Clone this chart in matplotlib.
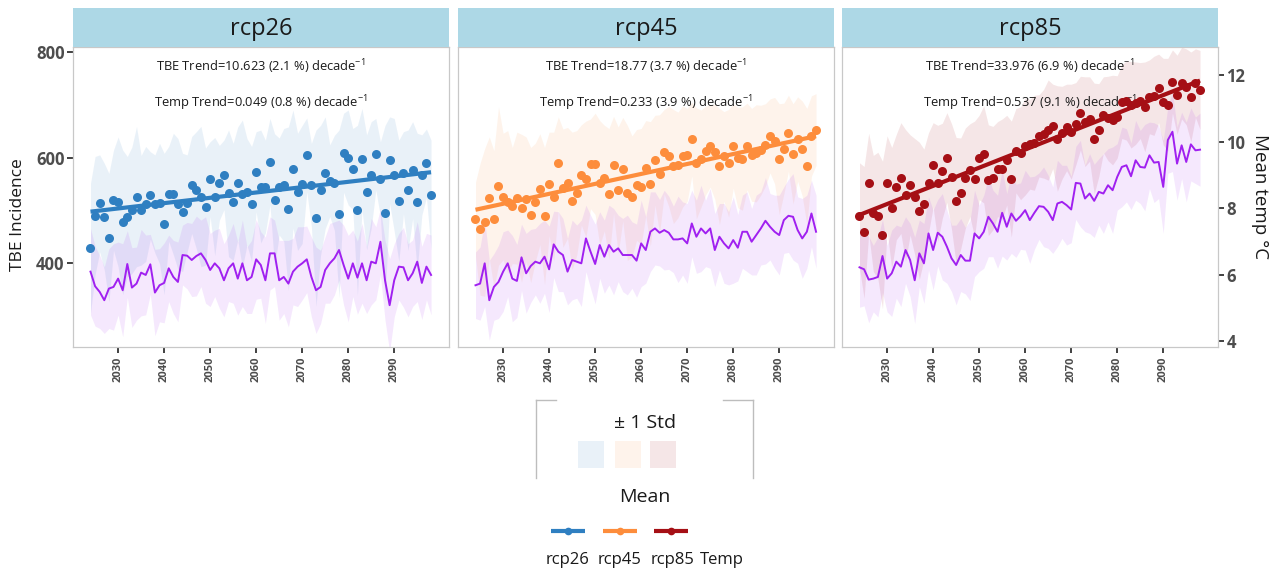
import numpy as np
import matplotlib
matplotlib.use('Agg')
import matplotlib.pyplot as plt
from matplotlib.patches import Rectangle

plt.rcParams['font.family'] = ['Open Sans', 'DejaVu Sans']
plt.rcParams['mathtext.fontset'] = 'custom'
plt.rcParams['mathtext.rm'] = 'Open Sans'
plt.rcParams['mathtext.it'] = 'Open Sans:italic'
plt.rcParams['mathtext.bf'] = 'Open Sans:bold'

# ---------------- data ----------------
years = list(range(2024, 2099))
scenarios = ['rcp26', 'rcp45', 'rcp85']

tbe_rcp26 = [428, 490, 513, 488, 448, 519, 516, 477, 488, 500, 526, 500, 512, 528, 512,
             513, 474, 531, 531, 512, 496, 513, 548, 538, 526, 507, 559, 526, 552, 567,
             532, 516, 551, 531, 535, 512, 573, 545, 545, 592, 519, 545, 548, 503, 578,
             535, 549, 605, 548, 485, 538, 571, 556, 552, 493, 609, 600, 578, 500, 597,
             534, 567, 606, 559, 494, 595, 567, 518, 571, 538, 576, 516, 567, 589, 529]
tbe_sd_rcp26 = [123, 112, 92, 101, 122, 95, 123, 137, 114, 120, 133, 104, 109, 83, 93,
                114, 134, 90, 115, 124, 112, 92, 92, 111, 133, 111, 71, 112, 71, 66,
                120, 111, 107, 140, 101, 109, 76, 107, 88, 82, 126, 92, 107, 155, 112,
                111, 112, 70, 79, 167, 123, 106, 68, 90, 159, 75, 90, 77, 161, 96,
                109, 101, 68, 71, 167, 82, 107, 115, 78, 114, 92, 130, 76, 65, 104]
temp_rcp26 = [6.09, 5.65, 5.48, 5.23, 5.58, 5.63, 5.88, 5.53, 6.32, 5.61, 5.73, 6.06, 5.99, 6.31, 5.46,
              5.68, 5.75, 6.19, 5.93, 5.78, 6.59, 6.57, 6.44, 6.56, 6.64, 6.44, 6.14, 6.34, 6.19, 5.83,
              6.19, 6.34, 5.88, 6.34, 5.83, 5.93, 6.46, 6.29, 5.83, 6.64, 6.64, 5.83, 5.93, 5.73, 6.09,
              6.24, 6.34, 6.46, 5.93, 5.53, 5.63, 6.14, 6.34, 6.49, 6.74, 6.29, 5.88, 6.34, 5.91, 6.34,
              5.83, 6.39, 6.34, 6.99, 5.83, 5.08, 5.83, 6.24, 6.22, 5.83, 6.04, 6.39, 5.75, 6.24, 5.99]
temp_sd_rcp26 = [1.3, 1.2, 1.1, 1.0, 1.2, 1.3, 1.1, 1.4, 1.0, 1.2, 1.1, 1.3, 1.2, 0.9, 1.3,
                 1.1, 1.2, 1.0, 1.1, 1.2, 0.9, 1.0, 1.1, 1.2, 1.0, 1.3, 1.1, 1.0, 1.2, 1.1,
                 1.0, 1.2, 1.1, 1.3, 1.0, 1.1, 1.2, 1.0, 1.3, 1.1, 1.0, 1.2, 1.1, 1.3, 1.0,
                 1.2, 1.1, 1.0, 1.2, 1.3, 1.1, 1.0, 1.2, 1.1, 0.9, 1.2, 1.3, 1.0, 1.1, 1.2,
                 1.0, 1.3, 1.1, 1.0, 1.2, 1.4, 1.1, 1.0, 1.2, 1.1, 1.0, 1.2, 1.1, 1.0, 1.2]

tbe_rcp45 = [483, 464, 477, 524, 483, 546, 526, 516, 509, 523, 504, 521, 491, 515, 540,
             489, 550, 526, 589, 542, 552, 518, 533, 567, 559, 588, 588, 552, 561, 531,
             586, 538, 578, 533, 526, 548, 545, 580, 550, 595, 569, 611, 602, 583, 586,
             602, 605, 635, 589, 598, 613, 622, 611, 583, 602, 589, 622, 600, 598, 621,
             605, 608, 614, 624, 641, 632, 597, 617, 646, 607, 635, 617, 583, 641, 653]
tbe_sd_rcp45 = [70, 125, 140, 115, 130, 150, 120, 135, 110, 125, 140, 118, 128, 112, 105,
                130, 98, 122, 88, 112, 105, 130, 118, 95, 110, 85, 96, 118, 100, 124,
                92, 120, 98, 128, 115, 105, 110, 90, 118, 85, 112, 80, 95, 108, 100,
                96, 88, 70, 105, 92, 84, 78, 90, 110, 85, 102, 80, 95, 98, 82,
                88, 92, 85, 78, 70, 82, 105, 86, 72, 95, 80, 90, 110, 76, 68]
temp_rcp45 = [5.68, 5.73, 6.34, 5.23, 5.63, 5.78, 6.09, 6.34, 5.88, 5.81, 6.52, 6.04, 6.26, 6.39, 6.34,
              6.54, 6.16, 6.91, 6.69, 6.59, 6.09, 6.44, 6.39, 6.34, 7.09, 6.69, 6.32, 6.89, 6.54, 6.89,
              6.69, 6.79, 6.59, 6.59, 6.59, 6.42, 6.94, 6.74, 7.29, 7.39, 7.26, 7.34, 7.26, 7.06, 7.06,
              7.09, 6.94, 7.54, 7.14, 7.39, 7.24, 7.39, 6.74, 7.14, 6.94, 6.79, 7.04, 6.81, 7.29, 7.29,
              6.99, 7.19, 7.39, 7.62, 7.44, 7.29, 7.19, 7.64, 7.77, 7.74, 7.34, 7.09, 7.29, 7.84, 7.29]
temp_sd_rcp45 = [1.0, 1.1, 1.3, 1.2, 1.0, 1.1, 1.2, 1.0, 1.3, 1.1, 1.0, 1.2, 1.1, 1.0, 1.2,
                 1.1, 1.3, 1.0, 1.2, 1.1, 1.0, 1.2, 1.1, 1.3, 1.0, 1.1, 1.2, 1.0, 1.1, 1.2,
                 1.3, 1.0, 1.1, 1.2, 1.0, 1.1, 1.3, 1.0, 1.2, 1.1, 1.0, 1.2, 1.1, 1.0, 1.3,
                 1.1, 1.2, 1.0, 1.1, 1.3, 1.0, 1.2, 1.1, 1.0, 1.2, 1.1, 1.3, 1.0, 1.1, 1.2,
                 1.0, 1.2, 1.1, 1.3, 1.0, 1.1, 1.2, 1.0, 1.1, 1.3, 1.0, 1.2, 1.1, 1.0, 1.1]

tbe_rcp85 = [490, 458, 551, 494, 490, 453, 551, 504, 544, 561, 528, 548, 526, 499, 511,
             552, 586, 551, 575, 600, 564, 518, 532, 561, 576, 559, 600, 606, 557, 561,
             578, 578, 595, 559, 613, 608, 621, 625, 628, 641, 645, 652, 659, 636, 647,
             657, 649, 664, 684, 668, 673, 636, 652, 681, 674, 671, 677, 706, 708, 700,
             703, 708, 696, 715, 717, 731, 706, 700, 744, 719, 741, 734, 715, 741, 728]
tbe_sd_rcp85 = [100, 125, 95, 110, 120, 140, 90, 115, 100, 105, 125, 95, 110, 130, 105,
                95, 80, 110, 90, 85, 100, 120, 105, 95, 88, 110, 80, 92, 105, 98,
                90, 95, 85, 110, 80, 88, 92, 85, 90, 78, 84, 95, 80, 100, 88,
                82, 90, 78, 70, 85, 80, 105, 88, 72, 80, 85, 78, 70, 75, 82,
                78, 72, 85, 70, 75, 65, 82, 88, 60, 75, 68, 72, 85, 65, 75]
temp_rcp85 = [6.22, 6.16, 5.85, 5.88, 5.93, 6.56, 5.88, 6.04, 6.39, 6.24, 6.74, 6.44, 5.83, 6.64, 6.34,
              7.24, 6.74, 7.26, 7.14, 6.84, 6.49, 6.29, 6.59, 6.42, 6.42, 7.24, 7.09, 7.29, 7.74, 7.54,
              7.29, 7.86, 7.44, 7.84, 7.62, 7.76, 7.94, 7.64, 7.86, 8.06, 8.04, 7.89, 7.64, 8.14, 8.19,
              8.09, 7.96, 8.76, 8.74, 8.29, 8.44, 8.22, 8.49, 8.44, 8.69, 8.54, 8.94, 9.24, 9.29, 8.96,
              9.44, 9.24, 9.22, 9.59, 9.37, 9.39, 8.64, 10.05, 10.30, 9.34, 9.89, 9.39, 9.92, 9.74, 9.76]
temp_sd_rcp85 = [1.2, 1.1, 1.3, 1.0, 1.2, 1.1, 1.0, 1.3, 1.1, 1.2, 1.0, 1.1, 1.3, 1.0, 1.2,
                 1.1, 1.2, 1.0, 1.3, 1.1, 1.0, 1.2, 1.1, 1.0, 1.2, 1.3, 1.0, 1.1, 1.2, 1.0,
                 1.1, 1.3, 1.0, 1.2, 1.1, 1.0, 1.2, 1.3, 1.1, 1.0, 1.2, 1.1, 1.0, 1.3, 1.1,
                 1.2, 1.0, 1.1, 1.3, 1.0, 1.2, 1.1, 1.0, 1.2, 1.1, 1.3, 1.0, 1.2, 1.1, 1.0,
                 1.2, 1.1, 1.3, 1.0, 1.2, 1.1, 1.4, 1.0, 1.2, 1.1, 1.0, 1.2, 1.1, 1.0, 1.1]

tbe_trend_text = ['TBE Trend=10.623 (2.1 %) decade$^{-1}$',
                  'TBE Trend=18.77 (3.7 %) decade$^{-1}$',
                  'TBE Trend=33.976 (6.9 %) decade$^{-1}$']
temp_trend_text = ['Temp Trend=0.049 (0.8 %) decade$^{-1}$',
                   'Temp Trend=0.233 (3.9 %) decade$^{-1}$',
                   'Temp Trend=0.537 (9.1 %) decade$^{-1}$']

xticks = [2030, 2040, 2050, 2060, 2070, 2080, 2090]
yticks_tbe = [400, 600, 800]
yticks_temp = [4, 6, 8, 10, 12]
TEMP_SCALE = 63.0  # secondary-axis factor: TBE units per degree C

tbe_all = [tbe_rcp26, tbe_rcp45, tbe_rcp85]
tbe_sd_all = [tbe_sd_rcp26, tbe_sd_rcp45, tbe_sd_rcp85]
temp_all = [temp_rcp26, temp_rcp45, temp_rcp85]
temp_sd_all = [temp_sd_rcp26, temp_sd_rcp45, temp_sd_rcp85]

colors = ['#2f7fc1', '#fd8d3c', '#a50f15']
temp_color = '#a020f0'
tick_col = '#4d4d4d'

W, H = 1286, 576
fig = plt.figure(figsize=(W / 100, H / 100), dpi=100)

lefts = [73, 458, 842]
pw = 376
yr = np.array(years, dtype=float)

for k in range(3):
    ax = fig.add_axes([lefts[k] / W, 1 - 347 / H, pw / W, 300 / H])
    strip = fig.add_axes([lefts[k] / W, 1 - 47 / H, pw / W, 39 / H])
    strip.set_facecolor('#add8e6')
    strip.set_xticks([]); strip.set_yticks([])
    for s in strip.spines.values():
        s.set_visible(False)
    strip.text(0.5, 0.45, scenarios[k], ha='center', va='center', fontsize=17, color='#1a1a1a',
               transform=strip.transAxes)

    tbe = np.array(tbe_all[k], dtype=float)
    sd = np.array(tbe_sd_all[k], dtype=float)
    tp = np.array(temp_all[k], dtype=float)
    tsd = np.array(temp_sd_all[k], dtype=float)
    c = colors[k]

    ax.fill_between(yr, tbe - sd, tbe + sd, color=c, alpha=0.1, lw=0, zorder=1)
    ax.fill_between(yr, (tp - tsd) * TEMP_SCALE, (tp + tsd) * TEMP_SCALE,
                    color=temp_color, alpha=0.1, lw=0, zorder=1)
    ax.plot(yr, tp * TEMP_SCALE, color=temp_color, lw=1.4, zorder=2)
    ax.text(0.5, 0.933, tbe_trend_text[k], transform=ax.transAxes, ha='center', va='center',
            fontsize=9.3, color='#1a1a1a', zorder=2)
    ax.text(0.5, 0.813, temp_trend_text[k], transform=ax.transAxes, ha='center', va='center',
            fontsize=9.3, color='#1a1a1a', zorder=2)
    ax.plot(yr, tbe, 'o', color=c, ms=6.5, mew=0, zorder=3)
    fit = np.polyfit(yr, tbe, 1)
    ax.plot(yr, np.polyval(fit, yr), color=c, lw=3, zorder=4, solid_capstyle='butt')

    ax.set_xlim(2020.2, 2101.9)
    ax.set_ylim(240.8, 809.5)
    ax.set_xticks(xticks)
    ax.set_xticklabels([str(t) for t in xticks], rotation=90, fontsize=8, fontweight='bold',
                       color=tick_col)
    ax.tick_params(axis='x', length=4, width=1.3, color='#333333', pad=3)
    ax.set_yticks(yticks_tbe)
    if k == 0:
        ax.set_yticklabels([str(t) for t in yticks_tbe], fontsize=12, fontweight='bold',
                           color=tick_col)
        ax.tick_params(axis='y', length=4, width=1.3, color='#333333', pad=2)
        ax.set_ylabel('TBE Incidence', fontsize=12.5, color='#1a1a1a')
        ax.yaxis.set_label_coords(-0.125, 0.44)
    else:
        ax.set_yticklabels([])
        ax.tick_params(axis='y', length=0)
    for s in ax.spines.values():
        s.set_color('#c8c8c8')
        s.set_linewidth(0.9)

    if k == 2:
        sec = ax.secondary_yaxis('right', functions=(lambda y: y / TEMP_SCALE,
                                                     lambda t: t * TEMP_SCALE))
        sec.set_yticks(yticks_temp)
        sec.set_yticklabels([str(t) for t in yticks_temp], fontsize=12, fontweight='bold',
                            color=tick_col)
        sec.tick_params(axis='y', length=4, width=1.3, color='#333333', pad=2)
        sec.spines['right'].set_visible(False)
        sec.set_ylabel('Mean temp \u00b0C', fontsize=13.5, rotation=270, labelpad=17,
                       color='#1a1a1a')

# ---------------- legend ----------------
lax = fig.add_axes([530 / W, 0, 230 / W, 181 / H])
lax.set_xlim(530, 760)
lax.set_ylim(576, 395)
lax.axis('off')
lcol = '#bdbdbd'
lax.plot([536, 536], [400, 478], color=lcol, lw=1, clip_on=False)
lax.plot([753, 753], [400, 478], color=lcol, lw=1, clip_on=False)
lax.plot([536, 556], [400, 400], color=lcol, lw=1, clip_on=False)
lax.plot([723, 753], [400, 400], color=lcol, lw=1, clip_on=False)
lax.text(645, 423, '\u00b1 1 Std', ha='center', va='center', fontsize=14, color='#1a1a1a')
sq_x = [578, 614.5, 650]
for i, c in enumerate(colors):
    lax.add_patch(Rectangle((sq_x[i], 441), 26, 27, facecolor=c, alpha=0.1, lw=0))
lax.text(645, 497, 'Mean', ha='center', va='center', fontsize=14, color='#1a1a1a')
key_x = [568, 620, 671]
for i, c in enumerate(colors):
    lax.plot([key_x[i] - 17, key_x[i] + 17], [531, 531], color=c, lw=3, solid_capstyle='butt')
    lax.plot([key_x[i]], [531], 'o', color=c, ms=5.5, mew=0)
lab_x = [568, 620, 673, 722]
for lx, lab in zip(lab_x, scenarios + ['Temp']):
    lax.text(lx, 560, lab, ha='center', va='center', fontsize=12, color='#1a1a1a')

fig.savefig('out.png', dpi=100, facecolor='white')
